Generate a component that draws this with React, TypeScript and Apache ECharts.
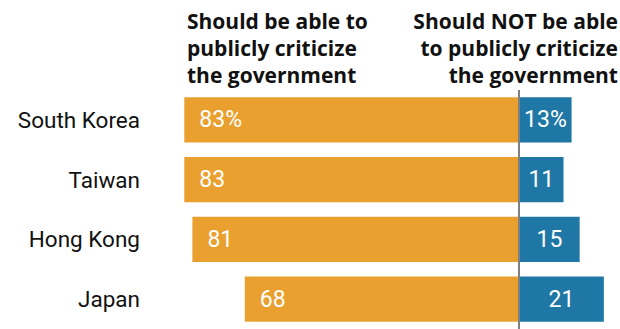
import React, { useEffect, useRef } from "react";
import * as echarts from "echarts";

const categories = ["South Korea", "Taiwan", "Hong Kong", "Japan"];
const shouldBeAble = [83, 83, 81, 68];
const shouldNotBeAble = [13, 11, 15, 21];
const headerLeft = "Should be able to\npublicly criticize\nthe government";
const headerRight = "Should NOT be able\nto publicly criticize\nthe government";

const ORANGE = "#EAA02F";
const BLUE = "#1F77A5";
const FONT = "Roboto";
const HEAD_FONT = "Open Sans";

export default function App() {
  const ref = useRef<HTMLDivElement>(null);
  useEffect(() => {
    if (!ref.current) return;
    const chart = echarts.init(ref.current, null, { renderer: "svg" });
    chart.setOption({
      animation: false,
      backgroundColor: "#ffffff",
      title: [
        {
          text: headerLeft,
          left: 182,
          top: 2,
          textAlign: "left",
          textStyle: { fontFamily: HEAD_FONT, fontWeight: "bold", fontSize: 21, lineHeight: 27, color: "#111" },
        },
        {
          text: headerRight,
          left: 613,
          top: 2,
          textAlign: "right",
          textStyle: { fontFamily: HEAD_FONT, fontWeight: "bold", fontSize: 21, lineHeight: 27, color: "#111", align: "right" },
        },
      ],
      grid: { left: 148, top: 90, width: 473, height: 245, containLabel: false },
      xAxis: {
        type: "value",
        min: -92,
        max: 25,
        show: false,
      },
      yAxis: {
        type: "category",
        data: categories,
        inverse: true,
        axisLine: { show: false },
        axisTick: { show: false },
        splitLine: { show: false },
        axisLabel: { margin: 8, fontFamily: FONT, fontSize: 22.5, color: "#111" },
      },
      series: [
        {
          type: "bar",
          stack: "total",
          barWidth: "76%",
          data: shouldBeAble.map((v) => -v),
          itemStyle: { color: ORANGE },
          label: {
            show: true,
            position: "insideLeft",
            distance: 15,
            color: "#fff",
            fontFamily: FONT,
            fontSize: 23,
            formatter: (p: any) => (p.dataIndex === 0 ? `${-p.value}%` : `${-p.value}`),
          },
          markLine: {
            silent: true,
            symbol: "none",
            label: { show: false },
            lineStyle: { color: "#808080", width: 2, type: "solid" },
            data: [{ xAxis: 0 }],
          },
        },
        {
          type: "bar",
          stack: "total",
          barWidth: "76%",
          data: shouldNotBeAble,
          itemStyle: { color: BLUE },
          label: {
            show: true,
            position: "inside",
            color: "#fff",
            fontFamily: FONT,
            fontSize: 23,
            formatter: (p: any) => (p.dataIndex === 0 ? `${p.value}%` : `${p.value}`),
          },
        },
      ],
    });
    return () => chart.dispose();
  }, []);
  return (
    <div
      ref={ref}
      style={{ position: "absolute", left: 0, top: 0, width: 620, height: 329 }}
    />
  );
}
